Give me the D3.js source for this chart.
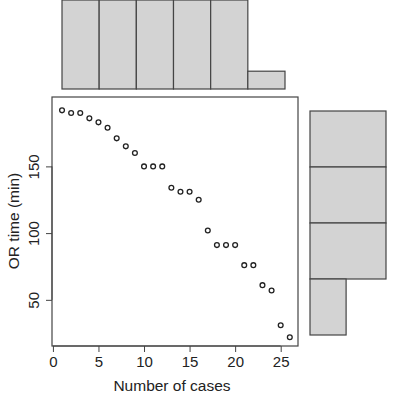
<!DOCTYPE html>
<html><head><meta charset="utf-8">
<script src="https://cdn.jsdelivr.net/npm/d3@7"></script>
<style>body{margin:0;background:#fff}text{font-family:"Liberation Sans",Arial,sans-serif}</style>
</head><body><svg id="c" width="415" height="400"></svg>
<script>
const cases=[1,2,3,4,5,6,7,8,9,10,11,12,13,14,15,16,17,18,19,20,21,22,23,24,25,26];
const orTime=[192,190,190,186,183,179,171,165,160,150,150,150,134,131,131,125,102,91,91,91,76,76,61,57,31,22];
const topBins=["0-5","5-10","10-15","15-20","20-25","25-30"];
const topCounts=[5,5,5,5,5,1];
const rightBins=["150-200","100-150","50-100","0-50"];
const rightCounts=[8,8,8,3.8];
const xTicks=[0,5,10,15,20,25];
const yTicks=[50,100,150];

const svg=d3.select("#c");
const fill="#d3d3d3",stroke="#444";
const x=d3.scaleLinear().domain([-0.1,26.9]).range([52,298]);
const y=d3.scaleLinear().domain([15.4,202]).range([346,97]);
const g=svg.append("g");
g.append("rect").attr("x",52).attr("y",97).attr("width",246).attr("height",249).attr("fill","none").attr("stroke",stroke).attr("stroke-width",1.2);
const xa=g.append("g").attr("transform","translate(0,346)").call(d3.axisBottom(x).tickValues(xTicks).tickSize(6).tickPadding(4));
xa.select(".domain").attr("d",`M${x(0)},0H${x(25)}`).attr("stroke",stroke);
xa.selectAll("line").attr("stroke",stroke);
xa.selectAll("text").attr("font-size",15).attr("fill","#222");
const ya=g.append("g").attr("transform","translate(52,0)").call(d3.axisLeft(y).tickValues(yTicks).tickSize(6).tickPadding(3));
ya.select(".domain").attr("d",`M0,${y(50)}V${y(150)}`).attr("stroke",stroke);
ya.selectAll("line").attr("stroke",stroke);
ya.selectAll("g.tick text").attr("font-size",15).attr("fill","#222").attr("text-anchor","middle")
  .attr("x",0).attr("y",0).attr("dy","0.35em").attr("transform","translate(-18,0) rotate(-90)");
g.selectAll("circle").data(cases).join("circle").attr("cx",(d)=>x(d)).attr("cy",(d,i)=>y(orTime[i])).attr("r",2.4).attr("fill","none").attr("stroke","#222").attr("stroke-width",1.3);
svg.append("text").attr("x",172).attr("y",391).attr("text-anchor","middle").attr("font-size",15.5).attr("fill","#222").text("Number of cases");
svg.append("text").attr("transform","translate(19,221) rotate(-90)").attr("text-anchor","middle").attr("font-size",15.5).attr("fill","#222").text("OR time (min)");

const tx=d3.scaleBand().domain(topBins).range([62,285]).padding(0);
const ty=d3.scaleLinear().domain([0,5]).range([89,0]);
svg.append("g").selectAll("rect").data(topBins).join("rect").attr("x",d=>tx(d)).attr("width",tx.bandwidth())
 .attr("y",(d,i)=>ty(topCounts[i])).attr("height",(d,i)=>89-ty(topCounts[i])).attr("fill",fill).attr("stroke",stroke).attr("stroke-width",1.2);
const ry=d3.scaleBand().domain(rightBins).range([111,335]).padding(0);
const rx=d3.scaleLinear().domain([0,8]).range([310,386]);
svg.append("g").selectAll("rect").data(rightBins).join("rect").attr("y",d=>ry(d)).attr("height",ry.bandwidth())
 .attr("x",310).attr("width",(d,i)=>rx(rightCounts[i])-310).attr("fill",fill).attr("stroke",stroke).attr("stroke-width",1.2);
</script></body></html>
